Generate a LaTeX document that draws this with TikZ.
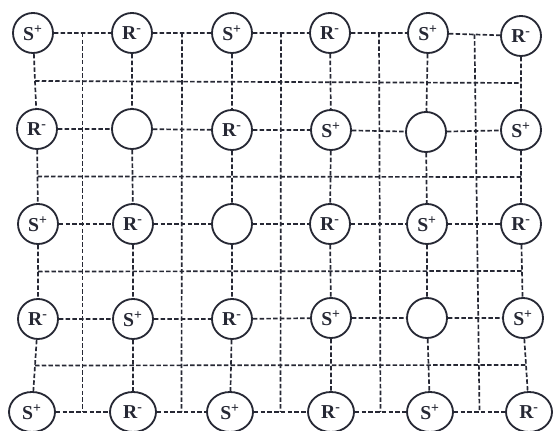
\documentclass[tikz,border=0pt]{standalone}
\usepackage{fontspec}
\setmainfont{Liberation Serif}
\usepackage{xcolor}
\usepackage{tikz}
\usetikzlibrary{shapes.geometric,positioning,calc}
\definecolor{ink}{RGB}{38,40,52}
\tikzstyle{ion}  =[circle, draw=ink, line width=1.3pt, fill=white, minimum size=1cm,
                   inner sep=0pt, text=ink, font=\bfseries\fontsize{14}{15}\selectfont]
\tikzstyle{wideion}=[ion, ellipse, minimum width=1.15cm, minimum height=1cm]
\tikzstyle{bond} =[draw=ink, line width=1.2pt, dash pattern=on 3.2pt off 1.6pt]
\tikzstyle{mesh} =[bond]
\newcommand{\sion}{S\textsuperscript{+}}
\newcommand{\rion}{R\textsuperscript{-}}

\begin{document}
\begin{tikzpicture}[x=0.025cm, y=-0.025cm]
  \useasboundingbox (0,0) rectangle (553,431);

  % ── ions, row by row ───────────────────────────────────────────────────────
  \node[ion] (a1) at (33,  33)  {\sion};
  \node[ion] (a2) at (132, 33)  {\rion};
  \node[ion] (a3) at (232, 33)  {\sion};
  \node[ion] (a4) at (330, 33)  {\rion};
  \node[ion] (a5) at (428, 33)  {\sion};
  \node[ion] (a6) at (521, 36)  {\rion};

  \node[ion] (b1) at (37,  129) {\rion};
  \node[ion] (b2) at (132, 129) {};
  \node[ion] (b3) at (232, 130) {\rion};
  \node[ion] (b4) at (331, 130) {\sion};
  \node[ion] (b5) at (426, 132) {};
  \node[ion] (b6) at (521, 130) {\sion};

  \node[ion] (c1) at (38,  224) {\sion};
  \node[ion] (c2) at (133, 224) {\rion};
  \node[ion] (c3) at (232, 224) {};
  \node[ion] (c4) at (330, 224) {\rion};
  \node[ion] (c5) at (427, 224) {\sion};
  \node[ion] (c6) at (521, 224) {\rion};

  \node[ion] (d1) at (38,  319) {\rion};
  \node[ion] (d2) at (133, 319) {\sion};
  \node[ion] (d3) at (232, 319) {\rion};
  \node[ion] (d4) at (331, 318) {\sion};
  \node[ion] (d5) at (427, 318) {};
  \node[ion] (d6) at (523, 318) {\sion};

  \node[wideion] (e1) at (32,  412) {\sion};
  \node[wideion] (e2) at (133, 412) {\rion};
  \node[wideion] (e3) at (230, 412) {\sion};
  \node[wideion] (e4) at (331, 412) {\rion};
  \node[wideion] (e5) at (430, 412) {\sion};
  \node[wideion] (e6) at (529, 412) {\rion};

  % ── bonds along the rows ───────────────────────────────────────────────────
  \foreach \r in {a,b,c,d,e}{
    \draw[bond] (\r1) -- (\r2) -- (\r3) -- (\r4) -- (\r5) -- (\r6);
  }

  % ── bonds down the columns ─────────────────────────────────────────────────
  \foreach \k in {1,...,6}{
    \draw[bond] (a\k) -- (b\k) -- (c\k) -- (d\k) -- (e\k);
  }

  % ── mesh lines between the ions ────────────────────────────────────────────
  \foreach \k/\n in {1/2,2/3,3/4,4/5,5/6}{
    \draw[mesh] ($(a\k)!.5!(a\n)$) -- ($(e\k)!.5!(e\n)$);
  }
  \foreach \r/\s in {a/b,b/c,c/d,d/e}{
    \draw[mesh] ($(\r1)!.5!(\s1)$) -- ($(\r6)!.5!(\s6)$);
  }

\end{tikzpicture}
\end{document}
